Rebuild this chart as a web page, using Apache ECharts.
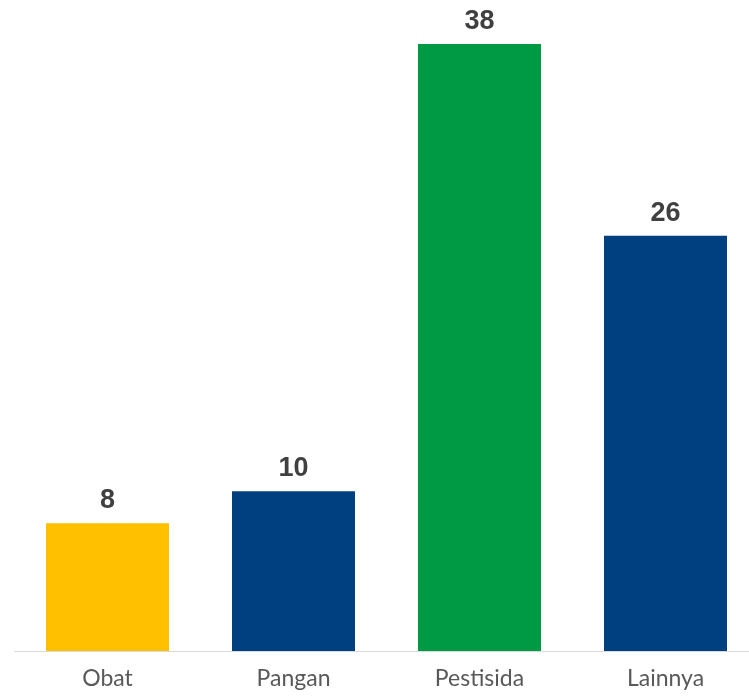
<!DOCTYPE html>
<html><head><meta charset="utf-8">
<script src="https://cdn.jsdelivr.net/npm/echarts@6/dist/echarts.min.js"></script>
<style>html,body{margin:0;padding:0;background:#fff}#c{width:749px;height:697px}</style>
</head><body><div id="c"></div>
<script>
const categories = ['Obat', 'Pangan', 'Pestisida', 'Lainnya'];
const values = [8, 10, 38, 26];
const colors = ['#FFC000', '#004080', '#009A44', '#004080'];

const chart = echarts.init(document.getElementById('c'), null, {renderer: 'canvas'});
chart.setOption({
  animation: false,
  grid: {left: 14.5, right: -9.5, top: 44, bottom: 46, containLabel: false, outerBoundsMode: 'none'},
  xAxis: {
    type: 'category', data: categories,
    axisLine: {lineStyle: {color: '#D9D9D9', width: 1}},
    axisTick: {show: false},
    axisLabel: {color: '#595959', fontSize: 23, fontFamily: 'Lato, "Noto Sans", sans-serif', margin: 16}
  },
  yAxis: {type: 'value', min: 0, max: 38, show: false, splitLine: {show: false}},
  series: [{
    type: 'bar', barWidth: 123,
    data: values.map((v, i) => ({value: v, itemStyle: {color: colors[i]}})),
    label: {show: true, position: 'top', distance: 9, color: '#404040', fontSize: 27, fontWeight: 'bold', fontFamily: '"Liberation Sans", Arial, sans-serif'}
  }]
});
</script></body></html>
